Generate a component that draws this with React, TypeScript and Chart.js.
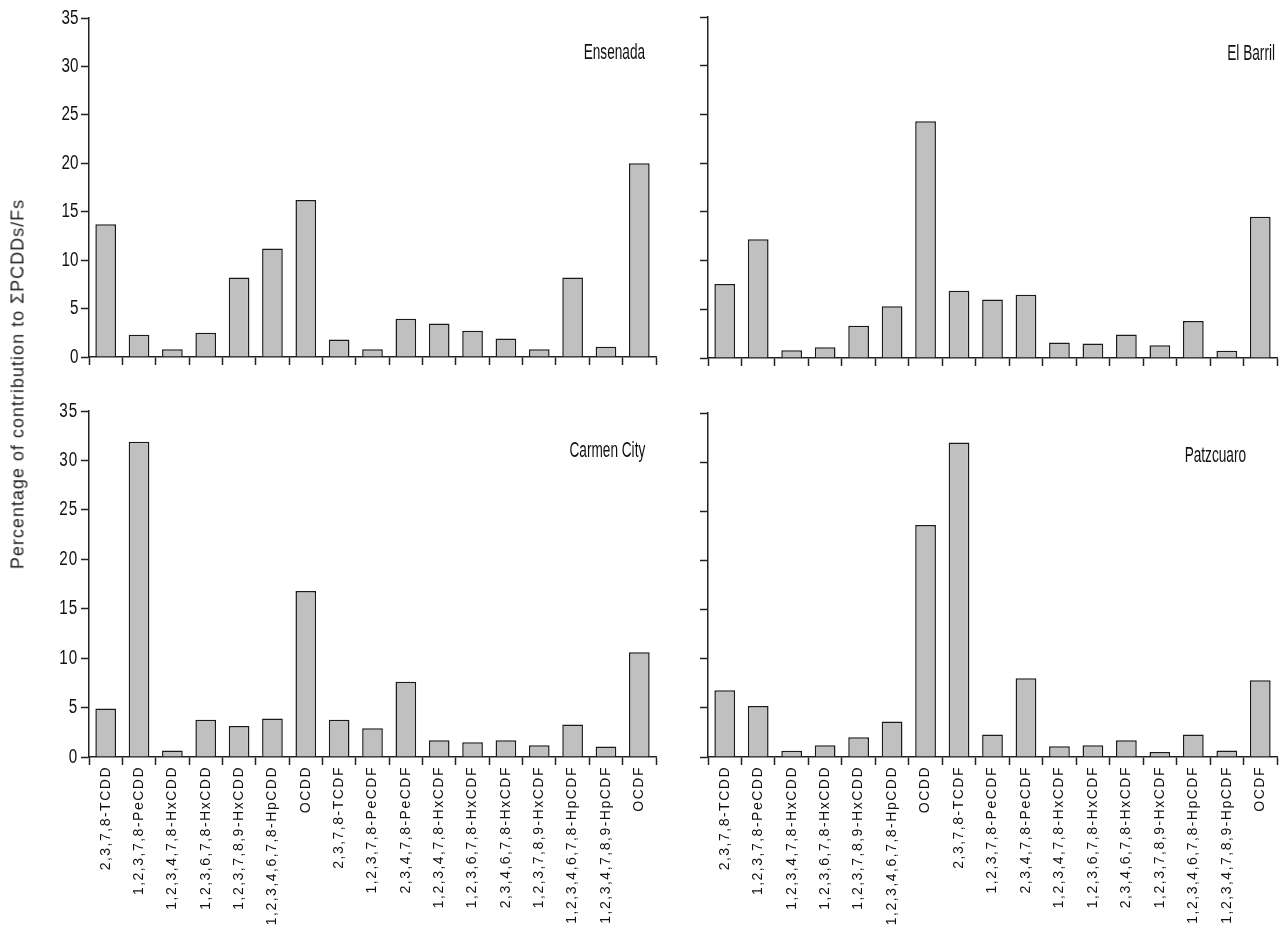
import React, { useEffect, useRef } from 'react';
import { Chart, registerables } from 'chart.js';

Chart.register(...registerables);

const categories = [
  '2,3,7,8-TCDD',
  '1,2,3,7,8-PeCDD',
  '1,2,3,4,7,8-HxCDD',
  '1,2,3,6,7,8-HxCDD',
  '1,2,3,7,8,9-HxCDD',
  '1,2,3,4,6,7,8-HpCDD',
  'OCDD',
  '2,3,7,8-TCDF',
  '1,2,3,7,8-PeCDF',
  '2,3,4,7,8-PeCDF',
  '1,2,3,4,7,8-HxCDF',
  '1,2,3,6,7,8-HxCDF',
  '2,3,4,6,7,8-HxCDF',
  '1,2,3,7,8,9-HxCDF',
  '1,2,3,4,6,7,8-HpCDF',
  '1,2,3,4,7,8,9-HpCDF',
  'OCDF',
];

const ensenada = [13.7, 2.3, 0.8, 2.5, 8.2, 11.2, 16.2, 1.8, 0.8, 3.95, 3.45, 2.7, 1.9, 0.8, 8.2, 1.05, 20.0];
const elBarril = [7.6, 12.2, 0.8, 1.1, 3.3, 5.3, 24.3, 6.9, 6.0, 6.5, 1.6, 1.5, 2.4, 1.3, 3.8, 0.75, 14.5];
const carmenCity = [4.9, 31.9, 0.66, 3.77, 3.14, 3.9, 16.8, 3.77, 2.9, 7.6, 1.7, 1.5, 1.7, 1.2, 3.3, 1.07, 10.6];
const patzcuaro = [6.8, 5.2, 0.63, 1.2, 2.0, 3.6, 23.6, 32.0, 2.3, 8.0, 1.1, 1.2, 1.7, 0.5, 2.3, 0.67, 7.8];

const yMin = 0;
const yMax = 35;
const yStep = 5;

const yTitle = 'Percentage of contribution to \u03A3PCDDs/Fs';

const SANS = "'Liberation Sans', Arial, Helvetica, sans-serif";
const AXIS = '#222';
const NARROW_SCALE = 0.76;

type Box = { x: number; y: number; w: number; h: number };
type Area = { l: number; t: number; r: number; b: number };

type PanelProps = {
  site: string;
  values: number[];
  canvas: Box;
  area: Area;
  showY: boolean;
  showX: boolean;
  labelRight: number;
  labelY: number;
};

function Panel({ site, values, canvas, area, showY, showX, labelRight, labelY }: PanelProps) {
  const ref = useRef<HTMLCanvasElement | null>(null);
  useEffect(() => {
    if (!ref.current) return;
    const yW = area.l - canvas.x;
    const xH = canvas.y + canvas.h - area.b;
    const spacing = {
      id: 'spacing',
      beforeDraw(chart: any) {
        chart.ctx.letterSpacing = '1.5px';
      },
      afterDraw(chart: any) {
        chart.ctx.letterSpacing = '0px';
      },
    };
    const chart = new Chart(ref.current, {
      type: 'bar',
      data: {
        labels: categories,
        datasets: [
          {
            label: site,
            data: values,
            backgroundColor: '#c0c0c0',
            borderColor: '#1a1a1a',
            borderWidth: 1.5,
            borderSkipped: 'bottom',
            barPercentage: 0.62,
            categoryPercentage: 1,
          },
        ],
      },
      options: {
        responsive: false,
        animation: false,
        devicePixelRatio: 1,
        layout: {
          padding: {
            left: 0,
            top: area.t - canvas.y,
            right: canvas.x + canvas.w - area.r,
            bottom: 0,
          },
        },
        plugins: {
          legend: { display: false },
          tooltip: { enabled: false },
          title: { display: false },
        },
        scales: {
          x: {
            type: 'category',
            offset: true,
            grid: {
              offset: true,
              drawOnChartArea: false,
              drawTicks: true,
              tickLength: 8,
              tickWidth: 1.5,
              tickColor: AXIS,
            },
            border: { display: true, color: AXIS, width: 1.5 },
            ticks: {
              display: showX,
              autoSkip: false,
              minRotation: 90,
              maxRotation: 90,
              padding: 1,
              color: '#111',
              font: { family: SANS, size: 14 },
            },
            afterFit: (s: any) => {
              s.height = xH;
            },
          },
          y: {
            type: 'linear',
            min: yMin,
            max: yMax,
            grid: {
              drawOnChartArea: false,
              drawTicks: true,
              tickLength: 8,
              tickWidth: 1.5,
              tickColor: AXIS,
            },
            border: { display: true, color: AXIS, width: 1.5 },
            ticks: {
              display: showY,
              stepSize: yStep,
              padding: 6,
              color: '#111',
              font: { family: SANS, size: 20 },
            },
            afterFit: (s: any) => {
              s.width = yW;
              if (!s.__narrow) {
                s.__narrow = true;
                const orig = s.drawLabels.bind(s);
                s.drawLabels = (ca: any) => {
                  const ctx = s.ctx;
                  ctx.save();
                  const x0 = s.right;
                  ctx.translate(x0, 0);
                  ctx.scale(NARROW_SCALE, 1);
                  ctx.translate(-x0, 0);
                  orig(ca);
                  ctx.restore();
                };
              }
            },
          },
        },
      },
      plugins: showX ? [spacing] : [],
    });
    return () => chart.destroy();
  }, []);

  return (
    <>
      <canvas
        ref={ref}
        width={canvas.w}
        height={canvas.h}
        style={{
          position: 'absolute',
          left: canvas.x,
          top: canvas.y,
          width: canvas.w,
          height: canvas.h,
        }}
      />
      <div
        style={{
          position: 'absolute',
          right: 1280 - labelRight,
          top: labelY - 14,
          height: 28,
          lineHeight: '28px',
          fontFamily: SANS,
          fontSize: 22,
          color: '#111',
          whiteSpace: 'nowrap',
          transform: 'scaleX(0.62)',
          transformOrigin: 'right center',
        }}
      >
        {site}
      </div>
    </>
  );
}

export default function App() {
  return (
    <div
      style={{
        position: 'fixed',
        left: 0,
        top: 0,
        width: 1280,
        height: 933,
        background: '#fff',
        overflow: 'hidden',
      }}
    >
      <Panel
        site="Ensenada"
        values={ensenada}
        canvas={{ x: 0, y: 0, w: 670, h: 385 }}
        area={{ l: 89, t: 15, r: 656, b: 357 }}
        showY={true}
        showX={false}
        labelRight={645}
        labelY={52}
      />
      <Panel
        site="El Barril"
        values={elBarril}
        canvas={{ x: 620, y: 0, w: 660, h: 385 }}
        area={{ l: 708, t: 17, r: 1277, b: 358 }}
        showY={false}
        showX={false}
        labelRight={1275}
        labelY={53}
      />
      <Panel
        site="Carmen City"
        values={carmenCity}
        canvas={{ x: 0, y: 385, w: 670, h: 548 }}
        area={{ l: 89, t: 411, r: 656, b: 757 }}
        showY={true}
        showX={true}
        labelRight={645}
        labelY={450}
      />
      <Panel
        site="Patzcuaro"
        values={patzcuaro}
        canvas={{ x: 620, y: 385, w: 660, h: 548 }}
        area={{ l: 708, t: 413, r: 1277, b: 757 }}
        showY={false}
        showX={true}
        labelRight={1246}
        labelY={455}
      />
      <div
        style={{
          position: 'absolute',
          left: 18,
          top: 384,
          transform: 'translate(-50%, -50%) rotate(-90deg)',
          fontFamily: SANS,
          fontSize: 18,
          letterSpacing: '1px',
          color: '#222',
          whiteSpace: 'nowrap',
        }}
      >
        {yTitle}
      </div>
    </div>
  );
}
